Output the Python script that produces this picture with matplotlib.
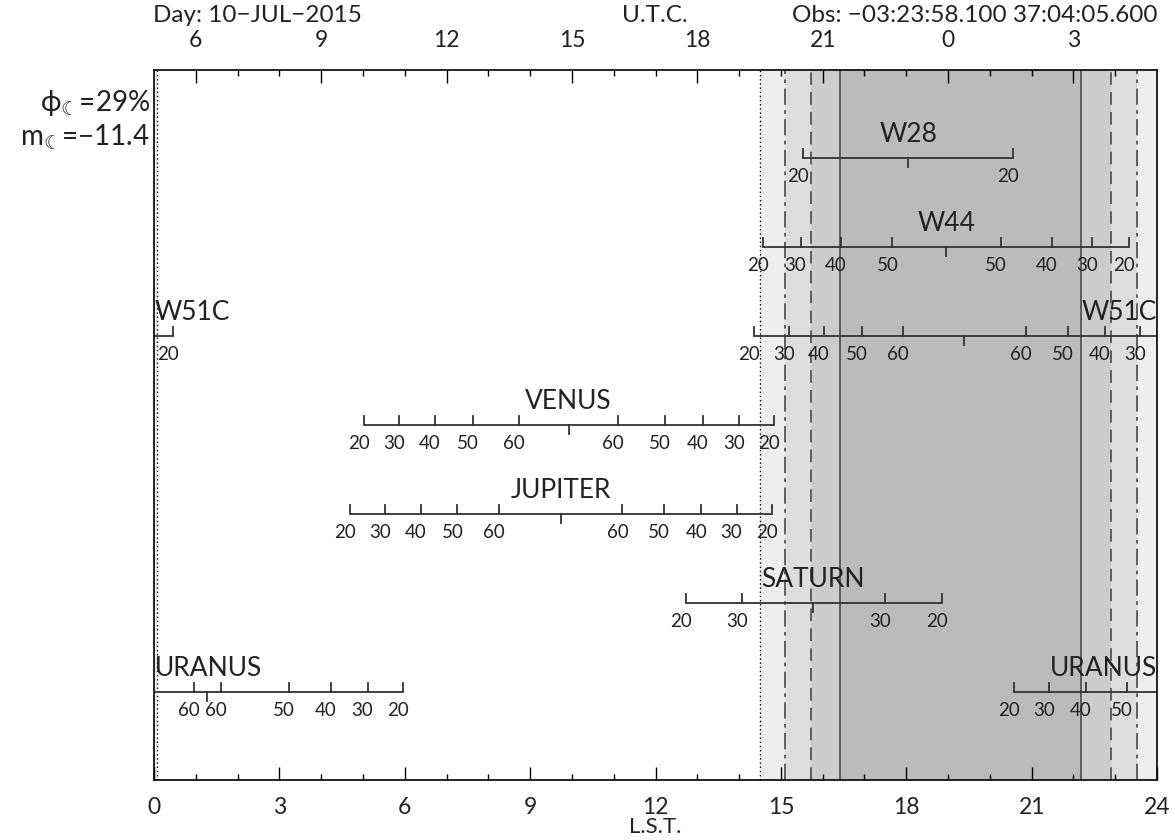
import numpy as np
import matplotlib.pyplot as plt
from matplotlib.ticker import FixedLocator

plt.rcParams['font.family'] = ['Lato', 'DejaVu Sans']
plt.rcParams['font.weight'] = 'normal'
plt.rcParams['text.color'] = '#222222'

# twilight limits, LST hours
sunset = 14.50
civil_dusk = 15.10
naut_dusk = 15.72
astro_dusk = 16.41
astro_dawn = 22.19
naut_dawn = 22.90
civil_dawn = 23.52
sunrise = 0.08

# UTC offset: UTC = LST + utc_off
utc_off = 5.0
utc_major = [6, 9, 12, 15, 18, 21, 24, 27]
utc_labels = ['6', '9', '12', '15', '18', '21', '0', '3']

# sources: elevation marks with rise / set LST, transit LST
names = ['W28', 'W44', 'W51C', 'VENUS', 'JUPITER', 'SATURN', 'URANUS']

w28_elev = [20]
w28_rise = [15.53]
w28_set = [20.56]
w28_transit = 18.05

w44_elev = [20, 30, 40, 50]
w44_rise = [14.58, 15.47, 16.43, 17.67]
w44_set = [23.33, 22.45, 21.49, 20.26]
w44_transit = 18.96

w51c_elev = [20, 30, 40, 50, 60]
w51c_rise = [14.35, 15.19, 16.03, 16.93, 17.93]
w51c_set = [24.45, 23.59, 22.75, 21.87, 20.86]
w51c_transit = 19.39

venus_elev = [20, 30, 40, 50, 60]
venus_rise = [5.02, 5.86, 6.72, 7.64, 8.74]
venus_set = [14.83, 14.00, 13.14, 12.22, 11.11]
venus_transit = 9.92

jupiter_elev = [20, 30, 40, 50, 60]
jupiter_rise = [4.69, 5.53, 6.38, 7.26, 8.25]
jupiter_set = [14.78, 13.94, 13.10, 12.21, 11.21]
jupiter_transit = 9.73

saturn_elev = [20, 30]
saturn_rise = [12.72, 14.07]
saturn_set = [18.86, 17.50]
saturn_transit = 15.77

uranus_elev = [20, 30, 40, 50, 60]
uranus_rise = [-3.43, -2.59, -1.70, -0.71, 0.957]
uranus_set = [5.96, 5.11, 4.23, 3.23, 1.60]
uranus_transit = 1.28

tracks = [
    (w28_elev, w28_rise, w28_set, w28_transit),
    (w44_elev, w44_rise, w44_set, w44_transit),
    (w51c_elev, w51c_rise, w51c_set, w51c_transit),
    (venus_elev, venus_rise, venus_set, venus_transit),
    (jupiter_elev, jupiter_rise, jupiter_set, jupiter_transit),
    (saturn_elev, saturn_rise, saturn_set, saturn_transit),
    (uranus_elev, uranus_rise, uranus_set, uranus_transit),
]

W, H = 1174, 840
fig = plt.figure(figsize=(W / 100, H / 100), dpi=100)
ax = fig.add_axes([154 / W, 1 - 780 / H, (1157 - 154) / W, (780 - 70) / H])
ax.set_xlim(0, 24)
ax.set_ylim(6.99, -0.99)

# night shading
ax.axvspan(sunset, 24, color='#eeeeee', lw=0, zorder=0)
ax.axvspan(0, sunrise, color='#eeeeee', lw=0, zorder=0)
ax.axvspan(civil_dusk, civil_dawn, color='#dddddd', lw=0, zorder=0)
ax.axvspan(naut_dusk, naut_dawn, color='#cccccc', lw=0, zorder=0)
ax.axvspan(astro_dusk, astro_dawn, color='#bbbbbb', lw=0, zorder=0)

lc = '#555555'
for x in [sunset, sunrise]:
    ax.axvline(x, color='k', lw=1, ls=(0, (1, 2)), zorder=1)
for x in [civil_dusk, civil_dawn]:
    ax.axvline(x, color=lc, lw=1.3, ls=(0, (9, 3, 2, 3)), zorder=1)
for x in [naut_dusk, naut_dawn]:
    ax.axvline(x, color=lc, lw=1.3, ls=(0, (7, 4)), zorder=1)
for x in [astro_dusk, astro_dawn]:
    ax.axvline(x, color=lc, lw=1.3, zorder=1)


def segments(a, b):
    if b > 24:
        return [(a, 24), (0, b - 24)]
    if a < 0:
        return [(a + 24, 24), (0, b)]
    return [(a, b)]


tc = '#333333'
shift = -0.12
for i, (name, (elev, rise, sett, transit)) in enumerate(zip(names, tracks)):
    segs = segments(rise[0], sett[0])
    for a, b in segs:
        ax.plot([a, b], [i, i], color=tc, lw=1.3, zorder=3, solid_capstyle='butt')
    for e, p in list(zip(elev, rise)) + list(zip(elev, sett)):
        x = p % 24
        ax.plot([x, x], [i, i - 0.1], color=tc, lw=1.3, zorder=3)
        ax.text(x + shift, i + 0.21, str(e), ha='center', va='center',
                fontsize=13.5, zorder=4)
    xt = transit % 24
    ax.plot([xt, xt], [i, i + 0.1], color=tc, lw=1.3, zorder=3)
    if len(segs) > 1:
        ax.text(0.02, i - 0.26, name, ha='left', va='center', fontsize=19, zorder=4)
        ax.text(24, i - 0.26, name, ha='right', va='center', fontsize=19, zorder=4)
    else:
        ax.text(xt, i - 0.26, name, ha='center', va='center', fontsize=19, zorder=4)

ax.set_yticks([])
ax.set_xticks(range(0, 25, 3))
ax.xaxis.set_minor_locator(FixedLocator(range(0, 25)))
ax.tick_params(axis='x', which='major', direction='in', length=9.5, width=1,
               labelsize=16.5, pad=12, top=False, labelcolor='#222222')
ax.tick_params(axis='x', which='minor', direction='in', length=4.5, width=1, top=False)
for s in ax.spines.values():
    s.set_linewidth(1.2)
    s.set_zorder(5)

top = ax.twiny()
top.set_xlim(0, 24)
top.set_xticks([u - utc_off for u in utc_major])
top.set_xticklabels(utc_labels)
top.xaxis.set_minor_locator(FixedLocator([u - utc_off for u in range(6, 29)]))
top.tick_params(axis='x', which='major', direction='in', length=9.5, width=1,
                labelsize=16.5, pad=14, labelcolor='#222222')
top.tick_params(axis='x', which='minor', direction='in', length=4.5, width=1)
for s in top.spines.values():
    s.set_visible(False)

fig.text(655 / W, 1 - 827 / H, 'L.S.T.', ha='center', va='center', fontsize=16)
fig.text(153 / W, 1 - 15 / H, 'Day: 10\u2212JUL\u22122015', ha='left', va='center', fontsize=17.5)
fig.text(655 / W, 1 - 15 / H, 'U.T.C.', ha='center', va='center', fontsize=17.5)
fig.text(1157 / W, 1 - 15 / H, 'Obs: \u221203:23:58.100 37:04:05.600', ha='right',
         va='center', fontsize=17.5)
fig.text(150 / W, 1 - 103 / H, '\u03d5$_{\u263e}$=29%', ha='right', va='center', fontsize=20)
fig.text(150 / W, 1 - 137 / H, 'm$_{\u263e}$=\u221211.4', ha='right', va='center', fontsize=20)

fig.savefig('out.png', dpi=100)
